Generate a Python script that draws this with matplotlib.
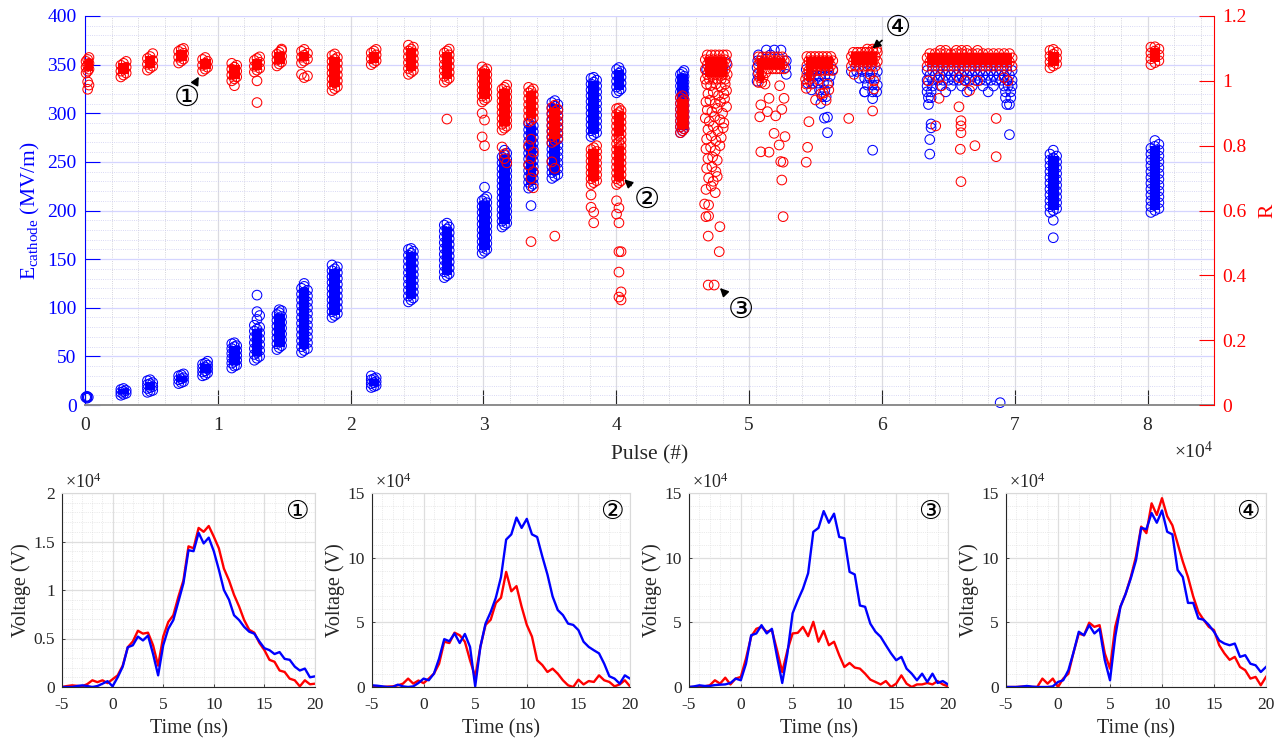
import matplotlib
matplotlib.use("Agg")
import matplotlib.pyplot as plt
from matplotlib.ticker import MultipleLocator

plt.rcParams["font.family"] = ["Liberation Serif", "DejaVu Serif"]
plt.rcParams["mathtext.fontset"] = "custom"
plt.rcParams["mathtext.rm"] = "Liberation Serif"
plt.rcParams["mathtext.it"] = "Liberation Serif:italic"

BLUE = (0, 0, 1)
RED = (1, 0, 0)
DARK = (0.15, 0.15, 0.15)
CIRCLED = ["①", "②", "③", "④"]
CIRC_FONT = ["DejaVu Sans", "Noto Sans CJK JP"]

# ---- top panel, E_cathode (MV/m): narrow clusters as columns (pulse, [E]) ----
BLUE_COLS = [
    (50, [8]), (150, [7, 8, 9]), (250, [8]),
    (2700, [10, 13, 16]), (2900, [11, 14, 17]), (3100, [12, 15]),
    (4700, [13, 17, 21, 25]), (4900, [14, 18, 22, 26]), (5100, [15, 19, 23]),
    (7050, [22, 26, 30]), (7250, [23, 27, 31]), (7420, [24, 28, 32]),
    (8850, [30, 34, 38, 42]), (9050, [31, 35, 39, 43]), (9230, [33, 37, 41, 45]),
    (11050, [38, 43, 48, 53, 58, 63]), (11250, [40, 45, 50, 55, 60, 64]), (11420, [41, 46, 51, 56, 61]),
    (12750, [46, 52, 58, 64, 70, 76, 82]), (12950, [48, 54, 60, 66, 72, 78, 88, 96, 113]),
    (13150, [50, 56, 62, 68, 74, 80, 92]),
    (14450, [57, 63, 69, 75, 81, 87, 93]), (14620, [59, 65, 71, 77, 83, 89, 95, 98]),
    (14800, [61, 67, 73, 79, 85, 91, 97]),
    (16300, [54, 60, 66, 72, 78, 84, 90, 96, 102, 108, 114, 120]),
    (16500, [56, 62, 68, 74, 80, 86, 92, 98, 104, 110, 116, 122, 125]),
    (16750, [58, 64, 70, 76, 82, 88, 94, 100, 106, 112, 118]),
    (18600, [90, 96, 102, 108, 114, 120, 126, 132, 138, 144]),
    (18800, [92, 98, 104, 110, 116, 122, 128, 134, 140]),
    (19000, [94, 100, 106, 112, 118, 124, 130, 136, 142]),
    (21550, [18, 22, 26, 30]), (21750, [19, 23, 27]), (21920, [20, 24, 28]),
    (24350, [106, 112, 118, 124, 130, 136, 142, 148, 154, 160]),
    (24550, [108, 114, 120, 126, 132, 138, 144, 150, 156, 161]),
    (24720, [110, 116, 122, 128, 134, 140, 146, 152, 158]),
    (27050, [131, 137, 143, 149, 155, 161, 167, 173, 179, 185]),
    (27250, [133, 139, 145, 151, 157, 163, 169, 175, 181, 187]),
    (27420, [135, 141, 147, 153, 159, 165, 171, 177, 183]),
    (29900, [156, 162, 168, 174, 180, 186, 192, 198, 204, 210]),
    (30080, [158, 164, 170, 176, 182, 188, 194, 200, 206, 212, 224]),
    (30250, [160, 166, 172, 178, 184, 190, 196, 202, 208, 214]),
    (31400, [183, 189, 195, 201, 207, 213, 219, 225, 231, 237, 243, 249, 255]),
    (31580, [185, 191, 197, 203, 209, 215, 221, 227, 233, 239, 245, 251, 257, 262]),
    (31750, [187, 193, 199, 205, 211, 217, 223, 229, 235, 241, 247, 253, 259]),
    (33400, [223, 229, 235, 241, 247, 253, 259, 265, 271, 277, 283, 289]),
    (33580, [205, 225, 231, 237, 243, 249, 255, 261, 267, 273, 279, 285, 291]),
    (33750, [227, 233, 239, 245, 251, 257, 263, 269, 275, 281, 287]),
    (35150, [233, 239, 245, 251, 257, 263, 269, 275, 281, 287, 293, 299, 305, 311]),
    (35370, [235, 241, 247, 253, 259, 265, 271, 277, 283, 289, 295, 301, 307, 313]),
    (35600, [237, 243, 249, 255, 261, 267, 273, 279, 285, 291, 297, 303, 309]),
    (38100, [276, 282, 288, 294, 300, 306, 312, 318, 324, 330, 336]),
    (38300, [278, 284, 290, 296, 302, 308, 314, 320, 326, 332, 337]),
    (38520, [280, 286, 292, 298, 304, 310, 316, 322, 328, 334]),
    (40020, [321, 327, 333, 339, 345]), (40200, [323, 329, 335, 341, 347]), (40360, [325, 331, 337, 343]),
    (44830, [280, 286, 292, 298, 304, 310, 316, 322, 328, 334, 340]),
    (44980, [282, 288, 294, 300, 306, 312, 318, 324, 330, 336, 342]),
    (45100, [284, 290, 296, 302, 308, 314, 320, 326, 332, 338, 344]),
    (72650, [198, 204, 210, 216, 222, 228, 234, 240, 246, 252, 258]),
    (72900, [200, 206, 212, 218, 224, 230, 236, 242, 248, 254, 262, 190, 172]),
    (73150, [202, 208, 214, 220, 226, 232, 238, 244, 250, 256]),
    (80250, [198, 204, 210, 216, 222, 228, 234, 240, 246, 252, 258, 264]),
    (80550, [200, 206, 212, 218, 224, 230, 236, 242, 248, 254, 260, 266, 272]),
    (80850, [202, 208, 214, 220, 226, 232, 238, 244, 250, 256, 262, 268]),
]
# wide clusters as rows (E, [pulse])
BLUE_ROWS = [
    (345, [46800, 47400, 48000]), (352, [47100, 47700, 48300]),
    (333, [50600]), (340, [50650, 52800]), (347, [50600, 52750]), (354, [50650, 52800]),
    (360, [50700, 51600]), (365, [51300, 51900, 52400]),
    (345, [54300, 54700, 55100, 55500, 55900, 56300]), (338, [54500, 54900, 55300, 55700, 56100]),
    (331, [54400, 54800, 55200, 55600, 56000]), (324, [54700, 55300, 55700]), (317, [55500, 55800]),
    (343, [57700, 58100, 58500, 58900, 59300, 59650]), (336, [58300, 58700, 59100, 59500]),
    (329, [58900, 59300, 59650]), (322, [58700, 59300, 59600]), (315, [59300]),
    (344, [63400, 63800, 64200, 64600, 65000, 65400, 65800, 66200, 66600, 67000, 67400, 67800,
           68200, 68600, 69000, 69400, 69800]),
    (339, [63600, 64000, 64400, 64800, 65200, 65600, 66000, 66400, 66800, 67200, 67600, 68000,
           68400, 68800, 69200, 69600]),
    (334, [63400, 63800, 64200, 64600, 65000, 65400, 65800, 66200, 66600, 67000, 67400, 67800,
           68200, 68600, 69000, 69400, 69800]),
    (328, [63400, 63800, 64400, 65200, 66000, 66800, 67600, 68400, 69200, 69500, 69800]),
    (322, [63400, 63700, 64800, 66400, 68000, 69300, 69700]),
    (316, [63500, 63700, 69300, 69700]), (309, [63500, 69400]),
]
BLUE_PTS = [
    (55400, 310), (55670, 295), (55900, 296), (55900, 280), (58700, 322), (59300, 262),
    (63600, 258), (63600, 273), (63700, 285), (63700, 289), (69600, 278), (69600, 309),
    (68900, 2.4),
]
# solid cores where the rings overlap completely: (pulse_lo, pulse_hi, E_lo, E_hi)
BLUE_CORE = [
    (2500, 3300, 11, 16), (4500, 5300, 15, 24), (6850, 7650, 24, 30), (8650, 9450, 33, 42),
    (10850, 11650, 41, 61), (12550, 13350, 50, 78), (14220, 15020, 60, 94), (16100, 16900, 58, 120),
    (18400, 19200, 93, 140), (21350, 22150, 20, 27), (24150, 24950, 109, 157), (26850, 27650, 134, 183),
    (29680, 30480, 159, 210), (31180, 31980, 186, 257), (33180, 33980, 226, 287), (34970, 35770, 236, 309),
    (37900, 38700, 279, 333), (39800, 40600, 324, 344), (44580, 45380, 283, 340),
    (72500, 73300, 201, 256), (80150, 80950, 201, 266),
]

# ---- top panel, R: narrow clusters as columns (pulse, [R]) ----
RED_COLS = [
    (80, [1.024, 1.042, 1.06]), (200, [1.03, 1.048, 1.066, 0.997, 0.974]), (300, [1.036, 1.054, 1.072, 0.987]),
    (2700, [1.012, 1.03, 1.048]), (2900, [1.018, 1.036, 1.054]), (3100, [1.024, 1.042, 1.06]),
    (4700, [1.033, 1.051, 1.069]), (4900, [1.039, 1.057, 1.075]), (5100, [1.045, 1.063, 1.084]),
    (7050, [1.055, 1.073, 1.091]), (7250, [1.061, 1.079, 1.097]), (7420, [1.067, 1.085, 1.1]),
    (8850, [1.03, 1.048, 1.066]), (9050, [1.036, 1.054, 1.072]), (9230, [1.042, 1.06]),
    (11050, [1.0, 1.018, 1.036, 1.054]), (11250, [0.985, 1.006, 1.024, 1.042]), (11420, [1.012, 1.03, 1.048]),
    (12750, [1.027, 1.045, 1.063]), (12950, [1.033, 1.051, 1.069, 1.0, 0.933]), (13150, [1.039, 1.057, 1.074]),
    (14450, [1.046, 1.064, 1.082]), (14620, [1.052, 1.07, 1.088]), (14800, [1.058, 1.076, 1.094, 1.098]),
    (16300, [1.055, 1.073, 1.091, 1.02]), (16500, [1.061, 1.079, 1.097, 1.01]), (16750, [1.067, 1.085, 1.015]),
    (18600, [0.97, 0.988, 1.006, 1.024, 1.042, 1.06, 1.078]),
    (18800, [0.976, 0.994, 1.012, 1.03, 1.048, 1.066, 1.083]),
    (19000, [0.982, 1.0, 1.018, 1.036, 1.054, 1.072]),
    (21550, [1.05, 1.068, 1.086]), (21750, [1.056, 1.074, 1.092]), (21920, [1.062, 1.08, 1.097]),
    (24350, [1.02, 1.038, 1.056, 1.074, 1.092, 1.11]), (24550, [1.026, 1.044, 1.062, 1.08, 1.098]),
    (24720, [1.032, 1.05, 1.068, 1.086, 1.104]),
    (27050, [0.996, 1.014, 1.032, 1.05, 1.068, 1.086]),
    (27250, [1.002, 1.02, 1.038, 1.056, 1.074, 1.092, 0.882]),
    (27420, [1.008, 1.026, 1.044, 1.062, 1.08, 1.098]),
    (29900, [0.935, 0.953, 0.971, 0.989, 1.007, 1.025, 1.043, 0.9, 0.827]),
    (30080, [0.941, 0.959, 0.977, 0.995, 1.013, 1.031, 0.879, 0.8]),
    (30250, [0.947, 0.965, 0.983, 1.001, 1.019, 1.037]),
    (31400, [0.848, 0.866, 0.884, 0.902, 0.92, 0.938, 0.956, 0.974, 0.796]),
    (31580, [0.854, 0.872, 0.89, 0.908, 0.926, 0.944, 0.962, 0.98, 0.775, 0.76]),
    (31750, [0.86, 0.878, 0.896, 0.914, 0.932, 0.95, 0.968, 0.987, 0.747]),
    (33400, [0.873, 0.891, 0.909, 0.927, 0.945, 0.963, 0.98, 0.8, 0.74]),
    (33580, [0.879, 0.897, 0.915, 0.933, 0.951, 0.969, 0.82, 0.76, 0.7, 0.504]),
    (33750, [0.885, 0.903, 0.921, 0.939, 0.957, 0.975, 0.78, 0.72, 0.67]),
    (35150, [0.81, 0.828, 0.846, 0.864, 0.882, 0.9, 0.918, 0.75]),
    (35370, [0.816, 0.834, 0.852, 0.87, 0.888, 0.906, 0.925, 0.73, 0.521]),
    (35600, [0.822, 0.84, 0.858, 0.876, 0.894, 0.912]),
    (38100, [0.68, 0.698, 0.716, 0.734, 0.752, 0.77, 0.788, 0.648, 0.61]),
    (38300, [0.686, 0.704, 0.722, 0.74, 0.758, 0.776, 0.794, 0.595, 0.562]),
    (38520, [0.692, 0.71, 0.728, 0.746, 0.764, 0.782, 0.8]),
    (40020, [0.68, 0.698, 0.716, 0.734, 0.752, 0.77, 0.788, 0.806, 0.824, 0.842, 0.86, 0.878, 0.896,
             0.914, 0.63, 0.589]),
    (40200, [0.686, 0.704, 0.722, 0.74, 0.758, 0.776, 0.794, 0.812, 0.83, 0.848, 0.866, 0.884, 0.902,
             0.916, 0.608, 0.562, 0.473, 0.41, 0.333]),
    (40360, [0.692, 0.71, 0.728, 0.746, 0.764, 0.782, 0.8, 0.818, 0.836, 0.854, 0.872, 0.89, 0.908,
             0.473, 0.349, 0.324]),
    (44830, [0.84, 0.858, 0.876, 0.894, 0.912, 0.93, 0.948]),
    (44980, [0.846, 0.864, 0.882, 0.9, 0.918, 0.936, 0.954]),
    (45100, [0.852, 0.87, 0.888, 0.906, 0.924, 0.942]),
    (72650, [1.04, 1.058, 1.076, 1.094]), (72900, [1.046, 1.064, 1.082, 1.097]), (73150, [1.052, 1.07, 1.088]),
    (80250, [1.05, 1.068, 1.086, 1.104]), (80550, [1.056, 1.074, 1.092, 1.105]), (80850, [1.062, 1.08, 1.098]),
]
# wide clusters as rows (R, [pulse])
RED_ROWS = [
    (1.005, [46700, 47000, 47300, 47600, 47900, 48200]), (1.02, [46850, 47150, 47450, 47750, 48050, 48350]),
    (1.035, [46700, 47000, 47300, 47600, 47900, 48200]), (1.05, [46850, 47150, 47450, 47750, 48050, 48350]),
    (1.065, [46700, 47000, 47300, 47600, 47900, 48200]), (1.08, [46850, 47150, 47450, 47750, 48050, 48300]),
    (0.995, [50700, 50950]), (1.01, [50800, 51050]), (1.025, [50700, 50950, 51250]),
    (1.037, [51450, 51750, 52050, 52350, 52650]),
    (1.05, [50700, 51000, 51300, 51600, 51900, 52200, 52500]),
    (1.062, [50850, 51150, 51450, 51750, 52050, 52350, 52650]),
    (1.074, [50700, 51000, 51300, 51600, 51900, 52200, 52500]),
    (0.99, [54300]), (1.005, [54250, 54500]), (1.02, [54350, 54650]),
    (1.032, [54500, 54800, 55100, 55400, 55700, 56000, 56300]),
    (1.047, [54350, 54650, 54950, 55250, 55550, 55850, 56150]),
    (1.062, [54500, 54800, 55100, 55400, 55700, 56000, 56300]),
    (1.075, [54350, 54650, 54950, 55250, 55550, 55850, 56150]),
    (1.045, [57700, 58000, 58300, 58600, 58900, 59200, 59500]),
    (1.06, [57850, 58150, 58450, 58750, 59050, 59350, 59650]),
    (1.075, [57700, 58000, 58300, 58600, 58900, 59200, 59500]),
    (1.088, [57850, 58150, 58450, 58750, 59050, 59350, 59650]),
    (1.098, [58900, 59300, 59600]),
    (1.045, [63400, 63800, 64200, 64600, 65000, 65400, 65800, 66200, 66600, 67000, 67400, 67800,
             68200, 68600, 69000, 69400, 69800]),
    (1.058, [63600, 64000, 64400, 64800, 65200, 65600, 66000, 66400, 66800, 67200, 67600, 68000,
             68400, 68800, 69200, 69600]),
    (1.071, [63400, 63800, 64200, 64600, 65000, 65400, 65800, 66200, 66600, 67000, 67400, 67800,
             68200, 68600, 69000, 69400, 69800]),
    (1.084, [63600, 64000, 64400, 64800, 65200, 65600, 66000, 66400, 66800, 67200, 67600, 68000,
             68400, 68800, 69200, 69600]),
    (1.094, [64400, 64800, 65600, 66000, 66400, 67200]),
]
RED_PTS = [
    (46800, 0.99), (47100, 0.985), (47500, 0.99), (47900, 0.98), (48200, 0.99),
    (46900, 0.96), (47300, 0.965), (47700, 0.955), (48100, 0.96), (48300, 0.97),
    (46750, 0.935), (47050, 0.94), (47450, 0.93), (47850, 0.935), (48150, 0.945),
    (46850, 0.91), (47200, 0.905), (47600, 0.915), (48000, 0.9), (48300, 0.92),
    (46700, 0.885), (47000, 0.875), (47400, 0.89), (47800, 0.88), (48100, 0.87),
    (46900, 0.85), (47300, 0.86), (47650, 0.845), (48050, 0.855),
    (46800, 0.82), (47150, 0.83), (47500, 0.815), (47900, 0.825),
    (46750, 0.79), (47100, 0.795), (47450, 0.785), (47800, 0.8),
    (46900, 0.76), (47250, 0.765), (47600, 0.755),
    (46800, 0.73), (47200, 0.735), (47500, 0.72),
    (46950, 0.7), (47300, 0.69), (47600, 0.705),
    (46750, 0.665), (47150, 0.675), (47450, 0.655),
    (46650, 0.62), (46950, 0.617), (46750, 0.581), (46950, 0.583), (47800, 0.55),
    (46920, 0.521), (47750, 0.473), (46920, 0.37), (47370, 0.37),
    (50880, 0.926), (50800, 0.889), (51380, 0.905), (52000, 0.892), (52460, 0.912), (51500, 0.946),
    (52630, 0.946), (51880, 0.838), (52700, 0.828), (52260, 0.802), (50880, 0.781), (51500, 0.78),
    (52380, 0.751), (52560, 0.749), (52460, 0.694), (52560, 0.581), (51200, 0.99), (52300, 0.985),
    (54300, 0.977), (55000, 0.941), (55600, 0.962), (56000, 0.972), (55200, 1.003), (54500, 0.874),
    (54400, 0.795), (54300, 0.749), (54700, 0.99), (55900, 0.99), (55400, 0.96), (55800, 0.94),
    (59400, 1.0), (59400, 0.975), (57900, 1.02), (59100, 1.02), (57500, 0.884), (59300, 0.907),
    (63500, 1.0), (64300, 1.01), (65800, 1.01), (66300, 1.0), (67200, 1.0), (69200, 1.01), (69500, 1.0),
    (64500, 0.985), (64050, 0.861), (64300, 0.946), (65800, 0.92), (65950, 0.877), (65950, 0.861),
    (65950, 0.84), (65900, 0.789), (65950, 0.689), (67000, 0.8), (68600, 0.884), (68600, 0.766),
    (66600, 0.97),
]
# solid cores (pulse_lo, pulse_hi, R_lo, R_hi)
RED_CORE = [
    (0, 600, 1.03, 1.066), (2500, 3300, 1.02, 1.054), (4500, 5300, 1.04, 1.078), (6850, 7650, 1.06, 1.094),
    (8650, 9450, 1.035, 1.066), (10850, 11650, 1.006, 1.048), (12550, 13350, 1.033, 1.066),
    (14220, 15020, 1.052, 1.09), (16100, 16900, 1.06, 1.09), (18400, 19200, 0.98, 1.075),
    (21350, 22150, 1.056, 1.09), (24150, 24950, 1.03, 1.1), (26850, 27650, 1.005, 1.09),
    (29680, 30480, 0.945, 1.035), (31180, 31980, 0.86, 0.975), (33180, 33980, 0.885, 0.97),
    (34970, 35770, 0.82, 0.915), (37900, 38700, 0.69, 0.79), (39800, 40600, 0.69, 0.80),
    (39800, 40600, 0.83, 0.905), (44580, 45380, 0.85, 0.945),
    (46700, 48350, 1.012, 1.075), (50600, 51100, 1.0, 1.07), (50700, 52700, 1.037, 1.07),
    (54250, 54700, 1.0, 1.07), (54300, 56300, 1.035, 1.072), (57700, 59650, 1.05, 1.088),
    (63400, 69800, 1.05, 1.087), (72500, 73300, 1.047, 1.09), (80150, 80950, 1.057, 1.1),
]

# annotations: (label, arrow tip (pulse, R), label centre (pulse, R))
ANNOT = [
    (CIRCLED[0], (8570, 1.013), (7650, 0.946)),
    (CIRCLED[1], (40600, 0.696), (42300, 0.632)),
    (CIRCLED[2], (47800, 0.361), (49370, 0.295)),
    (CIRCLED[3], (59280, 1.100), (61200, 1.165)),
]

# ---- bottom panels: waveforms, voltage in units of 1e4 V ----
T_NS = [-5, -4.5, -4, -3.5, -3, -2.5, -2, -1.5, -1, -0.5, 0, 0.5, 1, 1.5, 2, 2.5, 3, 3.5, 4, 4.5,
        5, 5.5, 6, 6.5, 7, 7.5, 8, 8.5, 9, 9.5, 10, 10.5, 11, 11.5, 12, 12.5, 13, 13.5, 14, 14.5,
        15, 15.5, 16, 16.5, 17, 17.5, 18, 18.5, 19, 19.5, 20]
V1_RED = [0, 0.01, 0.017, 0.012, 0.007, 0.03, 0.069, 0.05, 0.069, 0.04, 0.08, 0.12, 0.22, 0.41, 0.47, 0.58,
          0.55, 0.56, 0.43, 0.22, 0.52, 0.67, 0.74, 0.93, 1.10, 1.45, 1.43, 1.64, 1.60, 1.66, 1.55, 1.43,
          1.22, 1.10, 0.95, 0.83, 0.69, 0.59, 0.56, 0.455, 0.38, 0.28, 0.26, 0.17, 0.155, 0.086, 0.069,
          0.007, 0.069, 0.028, 0.034]
V1_BLUE = [0, 0, 0, 0.01, 0.017, 0.01, 0, 0.01, 0.034, 0.06, 0.007, 0.1, 0.21, 0.41, 0.43, 0.52, 0.48,
           0.53, 0.34, 0.12, 0.43, 0.60, 0.69, 0.88, 1.07, 1.41, 1.40, 1.59, 1.48, 1.54, 1.40, 1.21, 1.0,
           0.90, 0.74, 0.69, 0.62, 0.57, 0.55, 0.47, 0.40, 0.38, 0.34, 0.36, 0.29, 0.28, 0.21, 0.17, 0.19,
           0.10, 0.11]
V2_RED = [0, 0, 0, 0.03, 0.05, 0.13, 0.26, 0.65, 0.26, 0.5, 0.3, 0.65, 1.03, 1.8, 3.5, 3.4, 4.2, 4.0, 3.5,
          2.07, 0.78, 3.1, 4.8, 5.2, 6.5, 6.9, 8.9, 7.4, 7.8, 6.2, 4.8, 3.9, 2.07, 1.7, 1.16, 1.42, 1.03,
          0.52, 0.13, 0.0, 0.57, 0.2, 0.46, 0.39, 0.9, 0.52, 0.39, 0.05, 0.2, 0.52, 0.05]
V2_BLUE = [0.13, 0.1, 0.05, 0.0, 0.0, 0.18, 0.05, 0.0, 0.05, 0.31, 0.65, 0.52, 1.03, 2.2, 3.7, 3.54, 4.14,
           3.4, 4.1, 3.1, 0.05, 3.1, 4.9, 5.8, 6.9, 8.5, 11.4, 11.8, 13.1, 12.3, 13.0, 11.8, 11.6, 10.1,
           8.7, 7.0, 5.95, 5.56, 4.9, 4.8, 4.4, 3.5, 3.1, 2.84, 2.6, 1.8, 0.83, 0.65, 0.26, 0.9, 0.65]
V3_RED = [0, 0, 0, 0.05, 0.13, 0.52, 0.26, 0.72, 0.2, 0.65, 0.78, 2.2, 3.9, 4.5, 4.65, 4.27, 4.4, 2.84,
          1.16, 2.84, 4.14, 4.19, 4.65, 3.93, 5.04, 3.5, 4.34, 3.23, 3.5, 2.46, 1.55, 1.86, 1.5, 1.42,
          1.03, 0.57, 0.39, 0.2, 0.46, 0.0, 0.26, 0.9, 0.26, 0.0, 0.2, 0.2, 0.31, 0.2, 0.46, 0.2, 0.05]
V3_BLUE = [0, 0.05, 0.13, 0.08, 0.08, 0.15, 0.18, 0.2, 0.31, 0.65, 0.52, 1.8, 4.0, 4.14, 4.78, 4.14, 4.5,
           2.33, 0.31, 2.6, 5.7, 6.7, 7.6, 8.8, 12.0, 12.3, 13.6, 12.7, 13.4, 11.6, 11.5, 8.9, 8.7, 6.3,
           6.2, 4.9, 4.27, 3.88, 3.23, 2.6, 2.07, 2.33, 1.42, 1.03, 0.52, 1.03, 0.39, 1.03, 0.31, 0.46, 0.2]
V4_RED = [0, 0, 0, 0.03, 0.05, 0.0, 0.0, 0.65, 0.26, 0.65, 0.0, 0.65, 1.03, 2.7, 4.14, 4.0, 4.97, 4.65,
          4.78, 2.6, 1.42, 4.65, 6.2, 7.2, 8.5, 10.1, 12.4, 11.9, 14.2, 13.3, 14.6, 13.2, 12.5, 11.1, 9.7,
          8.5, 7.0, 5.8, 5.2, 4.65, 4.4, 3.23, 2.6, 2.1, 2.33, 1.55, 1.3, 0.65, 0.78, 0.13, 0.78]
V4_BLUE = [0, 0, 0, 0.03, 0.08, 0.03, 0.0, 0.0, 0.0, 0.05, 0.39, 0.52, 1.3, 2.7, 4.27, 4.0, 4.78, 4.14,
           4.5, 2.07, 0.52, 3.88, 6.2, 7.2, 8.4, 9.8, 12.3, 12.2, 13.45, 12.7, 13.65, 12.0, 11.8, 9.05,
           8.5, 6.5, 6.5, 5.3, 5.2, 4.8, 4.27, 3.6, 3.36, 3.23, 3.36, 2.33, 2.46, 1.8, 1.68, 1.16, 1.55]


def flatten(cols, rows, pts):
    xs, ys = [], []
    for x, yl in cols:
        xs += [x] * len(yl)
        ys += list(yl)
    for y, xl in rows:
        xs += list(xl)
        ys += [y] * len(xl)
    for x, y in pts:
        xs.append(x)
        ys.append(y)
    return xs, ys


def draw_cores(a, cores, color):
    for x0, x1, y0, y1 in cores:
        a.fill_between([x0, x1], [y0, y0], [y1, y1], color=color, lw=0, zorder=2)


W, H = 1281, 742
fig = plt.figure(figsize=(W / 100, H / 100), dpi=100)

# ================= top panel =================
ax = fig.add_axes([85 / W, 1 - 405 / H, (1214 - 85) / W, (405 - 16) / H])
ax2 = ax.twinx()

bx, by = flatten(BLUE_COLS, BLUE_ROWS, BLUE_PTS)
rx, ry = flatten(RED_COLS, RED_ROWS, RED_PTS)
draw_cores(ax, BLUE_CORE, BLUE)
ax.scatter(bx, by, s=48, facecolors="none", edgecolors=BLUE, linewidths=0.75, zorder=2, clip_on=False)
draw_cores(ax2, RED_CORE, RED)
ax2.scatter(rx, ry, s=48, facecolors="none", edgecolors=RED, linewidths=0.75, zorder=2, clip_on=False)

ax.set_xlim(0, 85000)
ax.set_ylim(0, 400)
ax2.set_ylim(0, 1.2)
ax.set_xticks([i * 10000 for i in range(9)])
ax.set_xticklabels([str(i) for i in range(9)])
ax.xaxis.set_minor_locator(MultipleLocator(2000))
ax.set_yticks(range(0, 401, 50))
ax.yaxis.set_minor_locator(MultipleLocator(10))
ax2.set_yticks([0, 0.2, 0.4, 0.6, 0.8, 1.0, 1.2])
ax2.set_yticklabels(["0", "0.2", "0.4", "0.6", "0.8", "1", "1.2"])

ax.set_axisbelow(True)
ax.grid(which="major", axis="x", color=(0.86, 0.86, 0.88), lw=0.9)
ax.grid(which="major", axis="y", color=(0.83, 0.83, 1.0), lw=0.9)
ax.grid(which="minor", axis="x", color=(0.78, 0.78, 0.82), ls=":", lw=0.6)
ax.grid(which="minor", axis="y", color=(0.8, 0.8, 0.95), ls=":", lw=0.6)

ax.tick_params(which="major", direction="in", length=11, width=0.8, labelsize=14)
ax.tick_params(which="minor", length=0)
ax.tick_params(axis="x", colors=DARK, pad=8.5)
ax.tick_params(axis="y", colors=BLUE, pad=6)
ax2.tick_params(which="major", direction="in", length=11, width=0.8, labelsize=14, colors=RED, pad=6)
ax2.tick_params(which="minor", length=0)

for s in ("top", "right"):
    ax.spines[s].set_visible(False)
for s in ("top", "left", "bottom"):
    ax2.spines[s].set_visible(False)
ax.spines["left"].set_color(BLUE)
ax.spines["bottom"].set_color((0.55, 0.55, 0.55))
ax.spines["bottom"].set_linewidth(1.4)
ax2.spines["right"].set_color(RED)

ax.set_ylabel(r"E$_{\mathrm{cathode}}$ (MV/m)", color=BLUE, fontsize=15.5, labelpad=4)
ax2.set_ylabel("R", color=RED, fontsize=15.5, labelpad=8)
ax.set_xlabel("Pulse (#)", color=DARK, fontsize=15.5, labelpad=8)
fig.text(1213 / W, 1 - 462 / H, "×10$^4$", ha="right", va="bottom", fontsize=14, color=DARK)

for lab, tip, txt in ANNOT:
    ax2.annotate(lab, xy=tip, xytext=txt, textcoords="data", fontsize=21,
                 family=CIRC_FONT, ha="center", va="center", zorder=5,
                 arrowprops=dict(arrowstyle="-|>", color="k", lw=1.2,
                                 mutation_scale=12, shrinkA=0, shrinkB=0))

# ================= bottom panels =================
PANELS = [
    ((62, 315), V1_RED, V1_BLUE, 2, [0, 0.5, 1, 1.5, 2], ["0", "0.5", "1", "1.5", "2"], 0.1),
    ((372, 630), V2_RED, V2_BLUE, 15, [0, 5, 10, 15], ["0", "5", "10", "15"], 1),
    ((689, 948), V3_RED, V3_BLUE, 15, [0, 5, 10, 15], ["0", "5", "10", "15"], 1),
    ((1006, 1266), V4_RED, V4_BLUE, 15, [0, 5, 10, 15], ["0", "5", "10", "15"], 1),
]
for k, ((x0, x1), vr, vb, ymax, yt, ytl, ymin) in enumerate(PANELS):
    a = fig.add_axes([x0 / W, 1 - 687 / H, (x1 - x0) / W, (687 - 493) / H])
    a.plot(T_NS, vr, color=RED, lw=1.7, solid_joinstyle="round")
    a.plot(T_NS, vb, color=BLUE, lw=1.7, solid_joinstyle="round")
    a.set_xlim(-5, 20)
    a.set_ylim(0, ymax)
    a.set_xticks([-5, 0, 5, 10, 15, 20])
    a.set_xticklabels(["-5", "0", "5", "10", "15", "20"])
    a.xaxis.set_minor_locator(MultipleLocator(1))
    a.set_yticks(yt)
    a.set_yticklabels(ytl)
    a.yaxis.set_minor_locator(MultipleLocator(ymin))
    a.set_axisbelow(True)
    a.grid(which="major", color=(0.87, 0.87, 0.87), lw=0.9)
    a.grid(which="minor", color=(0.85, 0.85, 0.85), ls=":", lw=0.5)
    a.tick_params(which="major", direction="in", length=2.5, width=0.6, labelsize=12.5, colors=DARK)
    a.tick_params(axis="x", pad=7.5)
    a.tick_params(axis="y", pad=5)
    a.tick_params(which="minor", length=0)
    for s in ("top", "right"):
        a.spines[s].set_color((0.85, 0.85, 0.85))
    for s in ("left", "bottom"):
        a.spines[s].set_color(DARK)
        a.spines[s].set_linewidth(0.8)
    a.set_ylabel("Voltage (V)", fontsize=14.5, color=DARK, labelpad=2)
    a.set_xlabel("Time (ns)", fontsize=14.5, color=DARK, labelpad=4)
    a.text(0.01, 1.005, "×10$^4$", transform=a.transAxes, ha="left", va="bottom", fontsize=13, color=DARK)
    a.text(0.93, 0.9, CIRCLED[k], transform=a.transAxes, ha="center", va="center", fontsize=19,
           family=CIRC_FONT, color="k")

fig.savefig("out.png", dpi=100)
